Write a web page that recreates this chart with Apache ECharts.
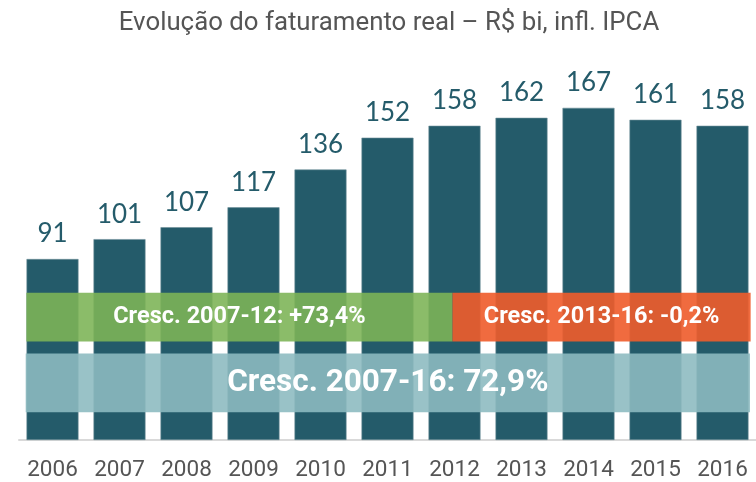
<!DOCTYPE html>
<html>
<head>
<meta charset="utf-8">
<script src="https://cdn.jsdelivr.net/npm/echarts@6/dist/echarts.min.js"></script>
<style>
    html, body { margin: 0; padding: 0; background: #fff; }
    #chart { width: 756px; height: 482px; }
</style>
</head>
<body>
<div id="chart"></div>
<script>
// dados
var anos = ['2006', '2007', '2008', '2009', '2010', '2011', '2012', '2013', '2014', '2015', '2016'];
var faturamento = [91, 101, 107, 117, 136, 152, 158, 162, 167, 161, 158];
var crescTextos = ['Cresc. 2007-12: +73,4%', 'Cresc. 2013-16: -0,2%', 'Cresc. 2007-16: 72,9%'];

var chart = echarts.init(document.getElementById('chart'));

var option = {
    animation: false,
    title: {
        text: 'Evolução do faturamento real – R$ bi, infl. IPCA',
        left: 384,
        textAlign: 'center',
        top: 6,
        textStyle: {
            fontFamily: 'Roboto',
            fontWeight: 'normal',
            fontSize: 25.8,
            color: '#555555'
        }
    },
    grid: {
        left: 19,
        top: 82,
        width: 740,
        bottom: 41.5
    },
    xAxis: [{
        type: 'category',
        data: anos,
        axisTick: { show: false },
        axisLine: { lineStyle: { color: '#d9d9d9', width: 2 } },
        axisLabel: {
            interval: 0,
            margin: 19,
            fontFamily: 'Roboto',
            fontSize: 22.5,
            color: '#555555'
        }
    }, {
        // eixo auxiliar para as faixas
        type: 'value',
        min: -0.5,
        max: 10.5,
        show: false
    }],
    yAxis: {
        type: 'value',
        min: 0,
        max: 180,
        show: false,
        splitLine: { show: false }
    },
    series: [{
        name: 'Faturamento',
        type: 'bar',
        barWidth: 52,
        itemStyle: {
            color: '#245b6a',
            borderColor: '#6d8f98',
            borderWidth: 0.6
        },
        label: {
            show: true,
            position: 'top',
            distance: 12,
            fontFamily: 'Lato',
            fontSize: 26,
            color: '#245b6a'
        },
        data: faturamento,
        z: 2
    }, {
        name: 'faixas',
        type: 'line',
        xAxisIndex: 1,
        data: [],
        markArea: {
            silent: true,
            z: 10,
            label: {
                position: 'inside',
                color: '#ffffff',
                fontFamily: 'Roboto',
                fontWeight: 'bold',
                fontSize: 23.5
            },
            data: [
                [{
                    name: crescTextos[0],
                    coord: [-0.39, 74],
                    itemStyle: { color: 'rgba(125,180,86,0.89)' }
                }, { coord: [5.97, 49.5] }],
                [{
                    name: crescTextos[1],
                    coord: [5.97, 74],
                    itemStyle: { color: 'rgba(239,92,44,0.91)' }
                }, { coord: [10.42, 49.5] }],
                [{
                    name: crescTextos[2],
                    coord: [-0.4, 43.5],
                    itemStyle: { color: 'rgba(140,186,192,0.89)' },
                    label: { fontSize: 31.5 }
                }, { coord: [10.41, 14] }]
            ]
        }
    }]
};

chart.setOption(option);
</script>
</body>
</html>
